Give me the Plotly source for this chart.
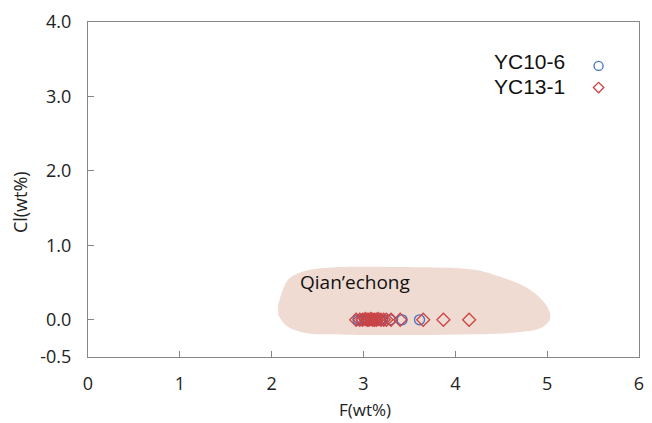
import plotly.graph_objects as go

# ---- data ----
yc10_6_F = [2.94, 2.98, 3.01, 3.03, 3.05, 3.07, 3.09, 3.11, 3.13, 3.15, 3.18, 3.21, 3.29, 3.42, 3.61]
yc10_6_Cl = [0.00, 0.00, 0.01, 0.00, 0.00, 0.01, 0.00, 0.00, 0.01, 0.00, 0.00, 0.00, 0.00, 0.00, 0.00]
yc13_1_F = [2.92, 2.96, 2.99, 3.02, 3.04, 3.06, 3.08, 3.10, 3.12, 3.14, 3.16, 3.19, 3.22, 3.25,
            3.30, 3.40, 3.65, 3.87, 4.15]
yc13_1_Cl = [0.00, 0.00, 0.00, 0.01, 0.00, 0.00, 0.01, 0.00, 0.00, 0.00, 0.01, 0.00, 0.00, 0.00,
             0.00, 0.00, 0.00, 0.00, 0.00]

# Qian'echong field outline (F, Cl)
field_F = [2.07, 2.18, 2.34, 2.61, 3.37, 4.23, 4.48, 4.72, 4.91, 5.02, 5.03, 4.93, 4.66, 3.91,
           2.83, 2.34, 2.15, 2.07]
field_Cl = [0.20, 0.54, 0.65, 0.70, 0.71, 0.67, 0.58, 0.47, 0.31, 0.13, 0.00, -0.11, -0.17, -0.20,
            -0.20, -0.17, -0.07, 0.07]
field_label = "Qian\u2019echong"

x_ticks = [0, 1, 2, 3, 4, 5, 6]
y_ticks = [-0.5, 0, 1, 2, 3, 4]
y_ticktext = ["-0.5", "0.0", "1.0", "2.0", "3.0", "4.0"]

series_names = ["YC10-6", "YC13-1"]
legend_key_F = 5.56
legend_key_Cl = [3.41, 3.12]
legend_text_Cl = [3.47, 3.14]

BLUE = "#4472C4"
RED = "#CC4444"
AXIS = "#868686"
FONT = "Open Sans"

fig = go.Figure()

fig.add_trace(go.Scatter(
    x=field_F, y=field_Cl, mode="lines", fill="toself",
    line=dict(width=0, shape="spline", smoothing=1.0, color="rgba(0,0,0,0)"),
    fillcolor="rgb(240,219,211)", hoverinfo="skip", showlegend=False))

fig.add_trace(go.Scatter(
    x=yc10_6_F, y=yc10_6_Cl, mode="markers", name=series_names[0],
    marker=dict(symbol="circle-open", size=10, color=BLUE, line=dict(width=1.3, color=BLUE)),
    showlegend=False))
fig.add_trace(go.Scatter(
    x=yc13_1_F, y=yc13_1_Cl, mode="markers", name=series_names[1],
    marker=dict(symbol="diamond-open", size=10, color=RED, line=dict(width=1.3, color=RED)),
    showlegend=False))

# custom legend keys (symbol to the right of the label)
fig.add_trace(go.Scatter(
    x=[legend_key_F], y=[legend_key_Cl[0]], mode="markers",
    marker=dict(symbol="circle-open", size=9, color=BLUE, line=dict(width=1.3, color=BLUE)),
    showlegend=False, hoverinfo="skip"))
fig.add_trace(go.Scatter(
    x=[legend_key_F], y=[legend_key_Cl[1]], mode="markers",
    marker=dict(symbol="diamond-open", size=8, color=RED, line=dict(width=1.3, color=RED)),
    showlegend=False, hoverinfo="skip"))

for name, yv in zip(series_names, legend_text_Cl):
    fig.add_annotation(x=5.22, y=yv, text=name, showarrow=False, xanchor="right", yanchor="middle",
                       font=dict(family="Liberation Sans, Arial", size=21, color="#111111"))

fig.add_annotation(x=2.91, y=0.51, text=field_label, showarrow=False, xanchor="center",
                   yanchor="middle", font=dict(family=FONT, size=19, color="#111111"))

# axis titles
fig.add_annotation(xref="paper", yref="paper", x=0.5036, y=-0.158, text="F(wt%)", showarrow=False,
                   xanchor="center", yanchor="middle", font=dict(family=FONT, size=17, color="#222222"))
fig.add_annotation(xref="paper", yref="paper", x=-0.123, y=0.463, text="Cl(wt%)", showarrow=False,
                   textangle=-90, xanchor="center", yanchor="middle",
                   font=dict(family=FONT, size=18, color="#222222"))

fig.update_layout(
    width=652, height=423,
    margin=dict(l=88, r=8, t=22, b=66),
    paper_bgcolor="white", plot_bgcolor="white",
    font=dict(family=FONT, size=18, color="#222222"),
    xaxis=dict(range=[0, 6], tickvals=x_ticks, ticks="inside", ticklen=6, tickcolor=AXIS,
               showline=True, linecolor=AXIS, linewidth=1, mirror=True, showgrid=False,
               zeroline=False, ticklabelstandoff=10, tickfont=dict(size=18, family=FONT)),
    yaxis=dict(range=[-0.5, 4], tickvals=y_ticks, ticktext=y_ticktext, ticks="inside", ticklen=6,
               tickcolor=AXIS, showline=True, linecolor=AXIS, linewidth=1, mirror=True,
               showgrid=False, zeroline=False, ticklabelstandoff=12,
               tickfont=dict(size=18, family=FONT)),
    showlegend=False,
)

fig.write_html("out.html", config={"displayModeBar": False},
               post_script="document.body.style.margin='0';")
